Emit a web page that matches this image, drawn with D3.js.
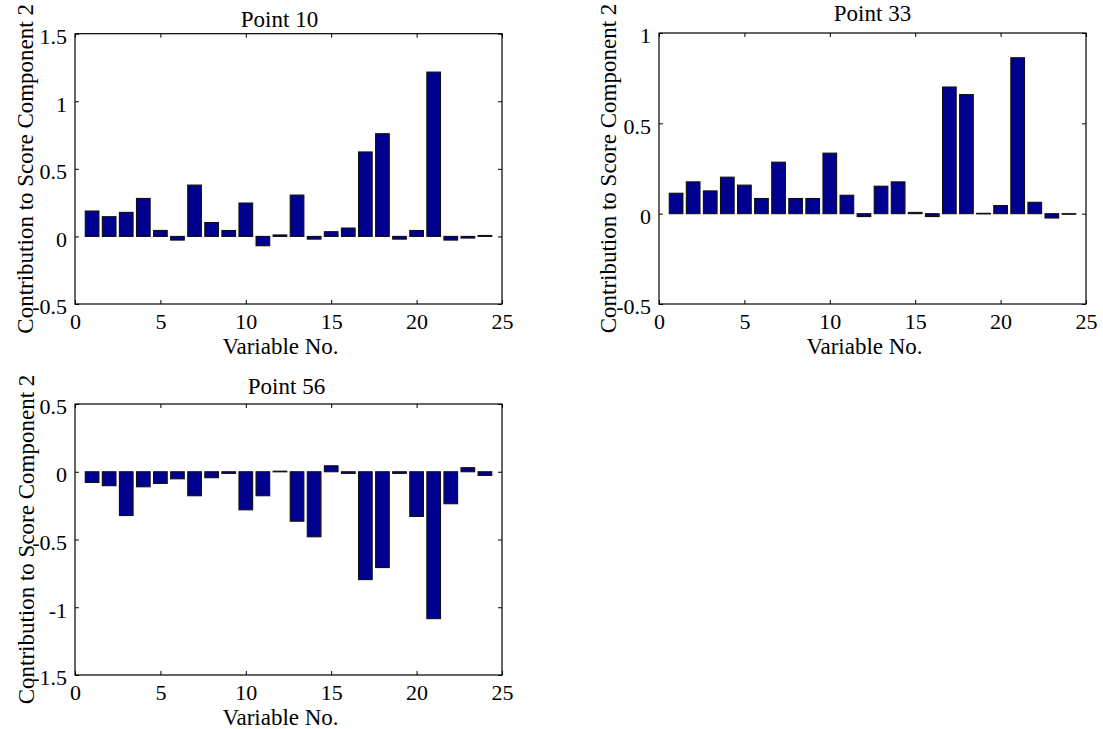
<!DOCTYPE html>
<html>
<head>
<meta charset="utf-8">
<script src="https://cdn.jsdelivr.net/npm/d3@7"></script>
<style>
  html, body { margin: 0; padding: 0; background: #fff; }
  svg text { font-family: "Liberation Serif", "Times New Roman", serif; fill: #000; }
</style>
</head>
<body>
<svg id="chart" width="1103" height="729"></svg>
<script>
// Variable numbers along the x axis
const variableNo = [1, 2, 3, 4, 5, 6, 7, 8, 9, 10, 11, 12, 13, 14, 15, 16, 17, 18, 19, 20, 21, 22, 23, 24];
const xTickValues = [0, 5, 10, 15, 20, 25];

// Contribution of each variable to score component 2, per observation
const point10 = [0.188, 0.146, 0.178, 0.281, 0.044, -0.027, 0.380, 0.103, 0.044, 0.247, -0.069, 0.011,
                 0.306, -0.020, 0.035, 0.062, 0.625, 0.760, -0.020, 0.044, 1.216, -0.027, -0.012, 0.007];
const point33 = [0.113, 0.176, 0.126, 0.202, 0.158, 0.084, 0.285, 0.084, 0.084, 0.335, 0.102, -0.016,
                 0.152, 0.176, 0.007, -0.016, 0.701, 0.659, 0.002, 0.045, 0.863, 0.063, -0.024, -0.003];
const point56 = [-0.079, -0.103, -0.323, -0.111, -0.086, -0.052, -0.177, -0.044, -0.012, -0.281, -0.177, 0.004,
                 -0.365, -0.480, 0.044, -0.012, -0.796, -0.707, -0.012, -0.330, -1.084, -0.236, 0.030, -0.027];

// Y tick labels for each panel
const yTicks10 = [-0.5, 0, 0.5, 1, 1.5];
const yTicks33 = [-0.5, 0, 0.5, 1];
const yTicks56 = [-1.5, -1, -0.5, 0, 0.5];

const titles = ["Point 10", "Point 33", "Point 56"];
const xLabel = "Variable No.";
const yLabel = "Contribution to Score Component 2";

const serif = "'Liberation Serif', 'Times New Roman', serif";
const svg = d3.select("#chart");
svg.append("rect").attr("width", 1103).attr("height", 729).attr("fill", "#fff");

// Subplot layout
const panels = [
  { title: titles[0], values: point10, ticks: yTicks10, left: 75,  right: 502,  top: 33.7, bottom: 304, titleY: 26.5, titleDx: -9, ylabX: 33 },
  { title: titles[1], values: point33, ticks: yTicks33, left: 659, right: 1086, top: 33,   bottom: 304, titleY: 20.5, titleDx: 0,  ylabX: 616 },
  { title: titles[2], values: point56, ticks: yTicks56, left: 75,  right: 502,  top: 404,  bottom: 675, titleY: 394,  titleDx: -2, ylabX: 34 }
];

const barColor = "#000090";
const tickFont = 22;
const labelFont = 23;

function drawPanel(p) {
  const g = svg.append("g");
  const yDomain = d3.extent(p.ticks);
  const x = d3.scaleLinear().domain([0, 25]).range([p.left, p.right]);
  const y = d3.scaleLinear().domain(yDomain).range([p.bottom, p.top]);
  const barW = x(0.8) - x(0);

  // bars
  g.append("g").selectAll("rect")
    .data(variableNo.map((v, i) => ({ v, val: p.values[i] })))
    .join("rect")
    .attr("x", d => x(d.v - 0.4))
    .attr("width", barW)
    .attr("y", d => y(Math.max(0, d.val)))
    .attr("height", d => Math.max(0.6, Math.abs(y(d.val) - y(0))))
    .attr("fill", barColor)
    .attr("stroke", "#111")
    .attr("stroke-width", 1.1);

  // axes with inward ticks on all four sides
  const fmt = d => String(d);
  const bottomAx = g.append("g").attr("transform", `translate(0,${p.bottom})`)
    .call(d3.axisBottom(x).tickValues(xTickValues).tickSizeInner(-4).tickSizeOuter(0).tickPadding(9).tickFormat(fmt));
  const leftAx = g.append("g").attr("transform", `translate(${p.left},0)`)
    .call(d3.axisLeft(y).tickValues(p.ticks).tickSizeInner(-4).tickSizeOuter(0).tickPadding(8).tickFormat(fmt));
  const topAx = g.append("g").attr("transform", `translate(0,${p.top})`)
    .call(d3.axisTop(x).tickValues(xTickValues).tickSizeInner(-4).tickSizeOuter(0).tickFormat(""));
  const rightAx = g.append("g").attr("transform", `translate(${p.right},0)`)
    .call(d3.axisRight(y).tickValues(p.ticks).tickSizeInner(-4).tickSizeOuter(0).tickFormat(""));

  [bottomAx, leftAx, topAx, rightAx].forEach(a => {
    a.select(".domain").remove();
    a.selectAll("line").attr("stroke", "#000").attr("stroke-width", 1);
    a.attr("font-family", serif).attr("font-size", tickFont);
    a.selectAll("text").attr("fill", "#000").attr("font-family", serif);
  });
  leftAx.selectAll("text").attr("dy", "0.45em");

  // axes box
  g.append("rect")
    .attr("x", p.left).attr("y", p.top)
    .attr("width", p.right - p.left).attr("height", p.bottom - p.top)
    .attr("fill", "none").attr("stroke", "#000").attr("stroke-width", 1.2);

  const cx = (p.left + p.right) / 2;
  // title
  g.append("text")
    .attr("x", cx + p.titleDx).attr("y", p.titleY)
    .attr("text-anchor", "middle").attr("font-size", labelFont).attr("font-family", serif)
    .text(p.title);
  // x label
  g.append("text")
    .attr("x", cx - 8).attr("y", p.bottom + 50)
    .attr("text-anchor", "middle").attr("font-size", labelFont).attr("font-family", serif)
    .text(xLabel);
  // y label
  g.append("text")
    .attr("transform", `translate(${p.ylabX},${(p.top + p.bottom) / 2}) rotate(-90)`)
    .attr("text-anchor", "middle").attr("font-size", labelFont).attr("font-family", serif)
    .text(yLabel);
}

panels.forEach(drawPanel);
</script>
</body>
</html>
